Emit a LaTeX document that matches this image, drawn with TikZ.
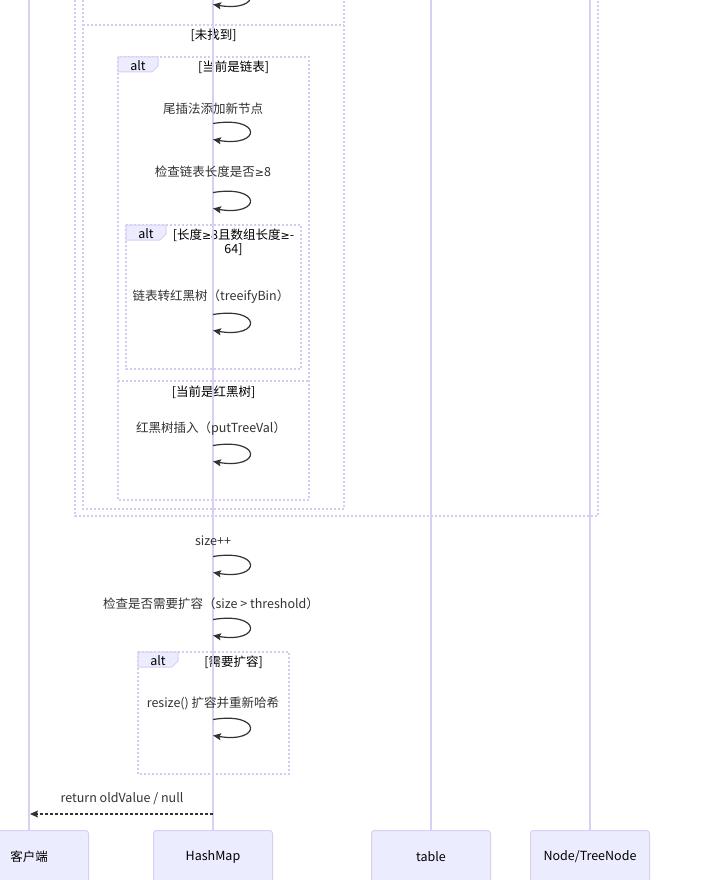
\documentclass[tikz,border=0pt]{standalone}
\usepackage{fontspec}
\setmainfont{Noto Sans CJK SC}
\newfontfamily\symfont{DejaVu Sans}
\usetikzlibrary{arrows.meta}
\definecolor{lifec}{HTML}{DACEF3}
\definecolor{framec}{HTML}{D4CAF2}
\definecolor{actfill}{HTML}{ECECFF}
\definecolor{msgc}{HTML}{333333}
\newcommand{\hmloop}[2]{%
  \coordinate (#1-a) at (213,#2+1.5);
  \coordinate (#1-b) at (213,#2+17.5);
  \draw[loopline] (#1-a) .. controls +(49,-8) and +(49,8) .. (#1-b);}
\newcommand{\myge}{{\symfont\fontsize{11}{14}\selectfont ≥}}
\begin{document}
\begin{tikzpicture}[x=1pt,y=-1pt,
  lifeline/.style={draw=lifec, line width=1.3pt},
  frameline/.style={draw=framec, line width=1.1pt, dash pattern=on 2pt off 2pt},
  tabbox/.style={draw=lifec, fill=actfill, line width=1pt},
  actorbox/.style={draw=lifec, fill=actfill, line width=1pt, rounded corners=3pt,
    minimum width=119pt, minimum height=52pt, anchor=north,
    font=\fontsize{12.5}{14}\selectfont, text=black},
  msg/.style={font=\fontsize{12.5}{14}\selectfont, text=msgc, inner sep=0pt},
  lbl/.style={font=\fontsize{12.5}{14}\selectfont, text=black, inner sep=0pt, align=center},
  loopline/.style={draw=msgc, line width=1.2pt, -{Stealth[length=8pt,width=7pt,inset=1.5pt]}},
  retline/.style={draw=msgc, line width=1.2pt, dash pattern=on 3pt off 2pt, -{Stealth[length=8pt,width=7pt,inset=1.5pt]}}]
\useasboundingbox (0,0) rectangle (703,880);
\clip (0,0) rectangle (703,880);
\fill[white] (0,0) rectangle (703,880);

% frames
\draw[frameline] (75,-20) -- (75,516) -- (598,516) -- (598,-20);
\draw[frameline] (83,-20) -- (83,509) -- (344,509) -- (344,-20);
\draw[frameline] (83,25) -- (344,25);
\node[lbl] (l-nf) at (213.5,35) {[未找到]};

\draw[frameline] (118,57) rectangle (309,500);
\draw[frameline] (118,381) -- (309,381);
\draw[tabbox] (118,57) -- (158,57) -- (158,66) -- (152,72) -- (118,72) -- cycle;
\node[lbl] (t1) at (138,65.5) {alt};
\node[lbl] (l-ll) at (233.5,67) {[当前是链表]};
\node[lbl] (l-rb) at (213.5,392) {[当前是红黑树]};

\draw[frameline] (126,225) rectangle (301,369);
\draw[tabbox] (126,225) -- (166,225) -- (166,234) -- (160,240) -- (126,240) -- cycle;
\node[lbl] (t2) at (146,233.5) {alt};
\node[lbl] (l-len) at (233.5,242) {[长度\myge8且数组长度\myge-\\64]};

\draw[frameline] (138,652) rectangle (289,774);
\draw[tabbox] (138,652) -- (178,652) -- (178,661) -- (172,667) -- (138,667) -- cycle;
\node[lbl] (t3) at (158,660.5) {alt};
\node[lbl] (l-rs) at (233.5,662) {[需要扩容]};

% actors
\node[actorbox] (client) at (29,830) {客户端};
\node[actorbox] (hashmap) at (213,830) {HashMap};
\node[actorbox] (table) at (431,830) {table};
\node[actorbox] (node) at (590,830) {Node/TreeNode};

% lifelines
\coordinate (client-top) at (29,0);
\coordinate (hashmap-top) at (213,0);
\coordinate (table-top) at (431,0);
\coordinate (node-top) at (590,0);
\draw[lifeline] (client-top) -- (client.north);
\draw[lifeline] (hashmap-top) -- (hashmap.north);
\draw[lifeline] (table-top) -- (table.north);
\draw[lifeline] (node-top) -- (node.north);

% self messages
\hmloop{m0}{-13}
\node[msg] (s1) at (213,109) {尾插法添加新节点};
\hmloop{m1}{122}
\node[msg] (s2) at (213,172) {检查链表长度是否\myge8};
\hmloop{m2}{191}
\node[msg] (s3) at (211,297) {链表转红黑树（treeifyBin）};
\hmloop{m3}{313}
\node[msg] (s4) at (211,429) {红黑树插入（putTreeVal）};
\hmloop{m4}{444}
\node[msg] (s5) at (213,541) {size++};
\hmloop{m5}{555}
\node[msg] (s6) at (211,604) {检查是否需要扩容（size > threshold）};
\hmloop{m6}{618}
\node[msg] (s7) at (213,703) {resize() 扩容并重新哈希};
\hmloop{m7}{718}

% return
\coordinate (ret-a) at (213,814);
\coordinate (ret-b) at (30,814);
\draw[retline] (ret-a) -- (ret-b);
\node[msg] (s8) at (122,799) {return oldValue / null};
\end{tikzpicture}
\end{document}
